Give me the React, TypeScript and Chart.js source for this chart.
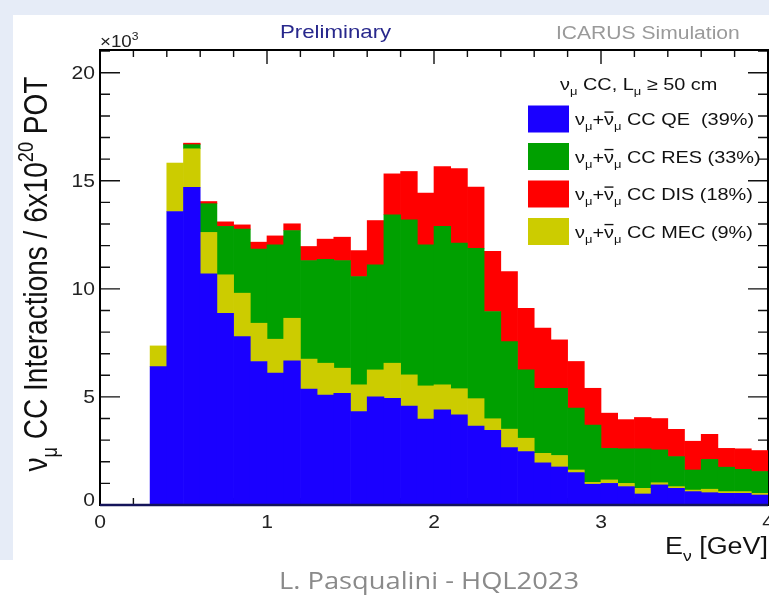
import React, { useEffect, useRef } from 'react';
import { Chart, registerables } from 'chart.js';

Chart.register(...registerables);

// Lower edges of the 0.1 GeV energy bins (GeV)
const binLow = [
  0.0, 0.1, 0.2, 0.3, 0.4, 0.5, 0.6, 0.7, 0.8, 0.9,
  1.0, 1.1, 1.2, 1.3, 1.4, 1.5, 1.6, 1.7, 1.8, 1.9,
  2.0, 2.1, 2.2, 2.3, 2.4, 2.5, 2.6, 2.7, 2.8, 2.9,
  3.0, 3.1, 3.2, 3.3, 3.4, 3.5, 3.6, 3.7, 3.8, 3.9,
];
const binWidth = 0.1;

// Interactions per bin, in units of 10^3
const qeCounts = [
  0, 0, 0, 6.40, 13.58, 14.70, 10.69, 8.87, 7.79, 6.64,
  6.10, 6.67, 5.36, 5.09, 5.17, 4.32, 5.01, 4.94, 4.58, 3.97,
  4.40, 4.17, 3.65, 3.45, 2.66, 2.47, 1.95, 1.76, 1.50, 0.96,
  1.00, 0.85, 0.51, 0.93, 0.77, 0.62, 0.57, 0.54, 0.54, 0.46,
];
const mecCounts = [
  0, 0, 0, 0.96, 2.24, 1.78, 1.92, 1.78, 2.01, 1.77,
  1.57, 1.97, 1.39, 1.47, 1.16, 1.24, 1.24, 1.62, 1.44, 1.54,
  1.16, 1.21, 1.27, 0.54, 0.85, 0.62, 0.44, 0.53, 0.12, 0.09,
  0.16, 0.15, 0.26, 0.10, 0.08, 0.07, 0.16, 0.08, 0.08, 0.08,
];
const resCounts = [
  0, 0, 0, 0, 0, 0.19, 1.33, 2.24, 2.96, 3.43,
  4.37, 4.06, 4.56, 4.81, 4.98, 5.01, 4.86, 6.87, 7.17, 6.53,
  7.33, 6.74, 6.96, 4.96, 4.05, 3.16, 3.01, 3.11, 2.86, 2.65,
  1.46, 1.60, 1.83, 1.52, 1.39, 0.93, 1.38, 1.13, 1.03, 1.01,
];
const disCounts = [
  0, 0, 0, 0, 0, 0.07, 0.10, 0.21, 0.20, 0.32,
  0.41, 0.31, 0.65, 0.93, 1.08, 1.20, 2.05, 1.89, 2.24, 2.39,
  2.77, 3.44, 2.83, 2.78, 3.24, 2.85, 2.78, 2.24, 2.16, 1.70,
  1.63, 1.35, 1.45, 1.45, 1.26, 1.33, 1.16, 0.87, 0.95, 0.97,
];

const xTickLabels = [0, 1, 2, 3, 4];
const yTickLabels = [0, 5, 10, 15, 20];
const legendLabels = ['CC QE  (39%)', 'CC RES (33%)', 'CC DIS (18%)', 'CC MEC (9%)'];
const legendColors = ['#1a00ff', '#00a000', '#ff0000', '#cccc00'];

const FONT = "'Liberation Sans', Arial, Helvetica, sans-serif";
const SX = 1.17;

type Part = { t: string; sub?: boolean; sup?: boolean; bar?: boolean };

function partSize(p: Part, size: number) {
  return p.sub || p.sup ? size * 0.65 : size;
}

function richWidth(ctx: CanvasRenderingContext2D, parts: Part[], size: number, family: string) {
  let w = 0;
  for (const p of parts) {
    ctx.font = `${partSize(p, size)}px ${family}`;
    w += ctx.measureText(p.t).width;
  }
  return w;
}

function drawRichLocal(
  ctx: CanvasRenderingContext2D,
  parts: Part[],
  size: number,
  family: string,
  color: string,
  align: 'left' | 'center' | 'right'
) {
  ctx.fillStyle = color;
  ctx.textBaseline = 'alphabetic';
  ctx.textAlign = 'left';
  const w = richWidth(ctx, parts, size, family);
  let cx = align === 'left' ? 0 : align === 'center' ? -w / 2 : -w;
  for (const p of parts) {
    const s = partSize(p, size);
    ctx.font = `${s}px ${family}`;
    const dy = p.sub ? size * 0.3 : p.sup ? -size * 0.42 : 0;
    ctx.fillText(p.t, cx, dy);
    const pw = ctx.measureText(p.t).width;
    if (p.bar) ctx.fillRect(cx + pw * 0.05, -size * 0.8, pw * 0.9, Math.max(1.3, size * 0.08));
    cx += pw;
  }
}

function drawRich(
  ctx: CanvasRenderingContext2D,
  parts: Part[],
  x: number,
  y: number,
  size: number,
  color: string,
  align: 'left' | 'center' | 'right',
  sx = SX,
  family = FONT
) {
  ctx.save();
  ctx.translate(x, y);
  ctx.scale(sx, 1);
  drawRichLocal(ctx, parts, size, family, color, align);
  ctx.restore();
}

const rootPlugin = {
  id: 'rootStyle',
  beforeDraw(chart: any) {
    const { ctx, width, height } = chart;
    ctx.save();
    ctx.fillStyle = '#ffffff';
    ctx.fillRect(0, 0, width, height);
    ctx.fillStyle = '#e6ecf7';
    ctx.fillRect(0, 0, width, 15);
    ctx.fillRect(0, 0, 13, 560);
    ctx.restore();
  },
  beforeDatasetsDraw(chart: any) {
    const { ctx, chartArea: a, scales } = chart;
    const x = scales.x;
    const y = scales.y;
    ctx.save();
    ctx.strokeStyle = '#111';
    ctx.lineWidth = 1.4;
    ctx.beginPath();
    for (let v = 0; v <= 21; v++) {
      const py = y.getPixelForValue(v);
      const len = v % 5 === 0 ? 20 : 10;
      ctx.moveTo(a.left, py);
      ctx.lineTo(a.left + len, py);
      ctx.moveTo(a.right, py);
      ctx.lineTo(a.right - len, py);
    }
    for (let k = 0; k <= 20; k++) {
      const px = x.getPixelForValue(k * 0.2);
      const len = k % 5 === 0 ? 14 : 7;
      ctx.moveTo(px, a.top);
      ctx.lineTo(px, a.top + len);
      ctx.moveTo(px, a.bottom);
      ctx.lineTo(px, a.bottom - len);
    }
    ctx.stroke();
    ctx.lineWidth = 2;
    ctx.strokeStyle = '#000';
    ctx.strokeRect(a.left, a.top, a.right - a.left, a.bottom - a.top);
    ctx.restore();
  },
  afterDatasetsDraw(chart: any) {
    const { ctx, chartArea: a, scales } = chart;
    const x = scales.x;
    const y = scales.y;
    ctx.save();
    // bottom axis line over the histogram
    ctx.strokeStyle = '#14145a';
    ctx.lineWidth = 2.4;
    ctx.beginPath();
    ctx.moveTo(a.left, a.bottom);
    ctx.lineTo(a.right, a.bottom);
    ctx.stroke();

    // tick labels
    for (const v of yTickLabels) {
      const py = Math.min(y.getPixelForValue(v), a.bottom - 6);
      drawRich(ctx, [{ t: String(v) }], a.left - 5, py + 6.5, 18, '#222', 'right');
    }
    for (const v of xTickLabels) {
      const px = x.getPixelForValue(v);
      drawRich(ctx, [{ t: String(v) }], px, a.bottom + 22.5, 18, '#222', 'center');
    }
    // exponent
    drawRich(ctx, [{ t: '×10' }, { t: '3', sup: true }], a.left, 47, 16, '#222', 'left');

    // axis titles
    drawRich(ctx, [{ t: 'E' }, { t: 'ν', sub: true }, { t: ' [GeV]' }], a.right, 554, 23, '#111', 'right');
    ctx.save();
    ctx.translate(47, 274);
    ctx.scale(SX, 1);
    ctx.rotate(-Math.PI / 2);
    drawRichLocal(
      ctx,
      [{ t: 'ν' }, { t: 'μ', sub: true }, { t: ' CC Interactions / 6x10' }, { t: '20', sup: true }, { t: ' POT' }],
      28,
      FONT,
      '#111',
      'center'
    );
    ctx.restore();

    // header texts
    drawRich(ctx, [{ t: 'Preliminary' }], 280, 38, 19, '#28288c', 'left');
    drawRich(ctx, [{ t: 'ICARUS Simulation' }], 556, 39, 18, '#9a9a9a', 'left');

    // legend
    drawRich(
      ctx,
      [{ t: 'ν' }, { t: 'μ', sub: true }, { t: ' CC, L' }, { t: 'μ', sub: true }, { t: ' ≥ 50 cm' }],
      560,
      90,
      17,
      '#111',
      'left'
    );
    legendLabels.forEach((lab, i) => {
      const top = 105.5 + i * 37.5;
      ctx.fillStyle = legendColors[i];
      ctx.fillRect(528, top, 41, 27);
      drawRich(
        ctx,
        [{ t: 'ν' }, { t: 'μ', sub: true }, { t: '+' }, { t: 'ν', bar: true }, { t: 'μ', sub: true }, { t: ' ' + lab }],
        575,
        top + 13.5 + 6,
        17,
        '#111',
        'left'
      );
    });

    // footer
    ctx.font = `24px 'Open Sans', 'Noto Sans', sans-serif`;
    const footer = 'L. Pasqualini - HQL2023';
    const fw = ctx.measureText(footer).width;
    drawRich(ctx, [{ t: footer }], 429, 589, 24, '#8a8a8a', 'center', 300 / fw, "'Open Sans', 'Noto Sans', sans-serif");
    ctx.restore();
  },
};

function series(values: number[]) {
  return binLow.map((lo, i) => ({ x: lo + binWidth / 2, y: values[i] === 0 ? null : values[i] }));
}

export default function App() {
  const ref = useRef<HTMLCanvasElement | null>(null);
  useEffect(() => {
    if (!ref.current) return;
    const chart = new Chart(ref.current, {
      type: 'bar',
      data: {
        datasets: [
          { label: 'QE', data: binLow.map((lo, i) => ({ x: lo + binWidth / 2, y: qeCounts[i] })) as any, backgroundColor: '#1a00ff', stack: 'all' },
          { label: 'MEC', data: series(mecCounts) as any, backgroundColor: '#cccc00', stack: 'all' },
          { label: 'RES', data: series(resCounts) as any, backgroundColor: '#00a000', stack: 'all' },
          { label: 'DIS', data: series(disCounts) as any, backgroundColor: '#ff0000', stack: 'all' },
        ],
      },
      options: {
        responsive: false,
        animation: false,
        devicePixelRatio: 1,
        layout: { padding: { left: 100, top: 50, right: 1, bottom: 94 } },
        plugins: { legend: { display: false }, tooltip: { enabled: false }, title: { display: false } },
        datasets: { bar: { barPercentage: 1, categoryPercentage: 1, borderWidth: 0 } } as any,
        scales: {
          x: { type: 'linear', min: 0, max: 4, offset: false, stacked: true, display: false, ticks: { stepSize: 1 } },
          y: { type: 'linear', min: 0, max: 21.05, stacked: true, display: false, ticks: { stepSize: 5 } },
        },
      },
      plugins: [rootPlugin],
    });
    return () => chart.destroy();
  }, []);
  return (
    <div style={{ position: 'fixed', left: 0, top: 0, width: 769, height: 599, background: '#fff' }}>
      <canvas ref={ref} width={769} height={599} style={{ display: 'block' }} />
    </div>
  );
}
